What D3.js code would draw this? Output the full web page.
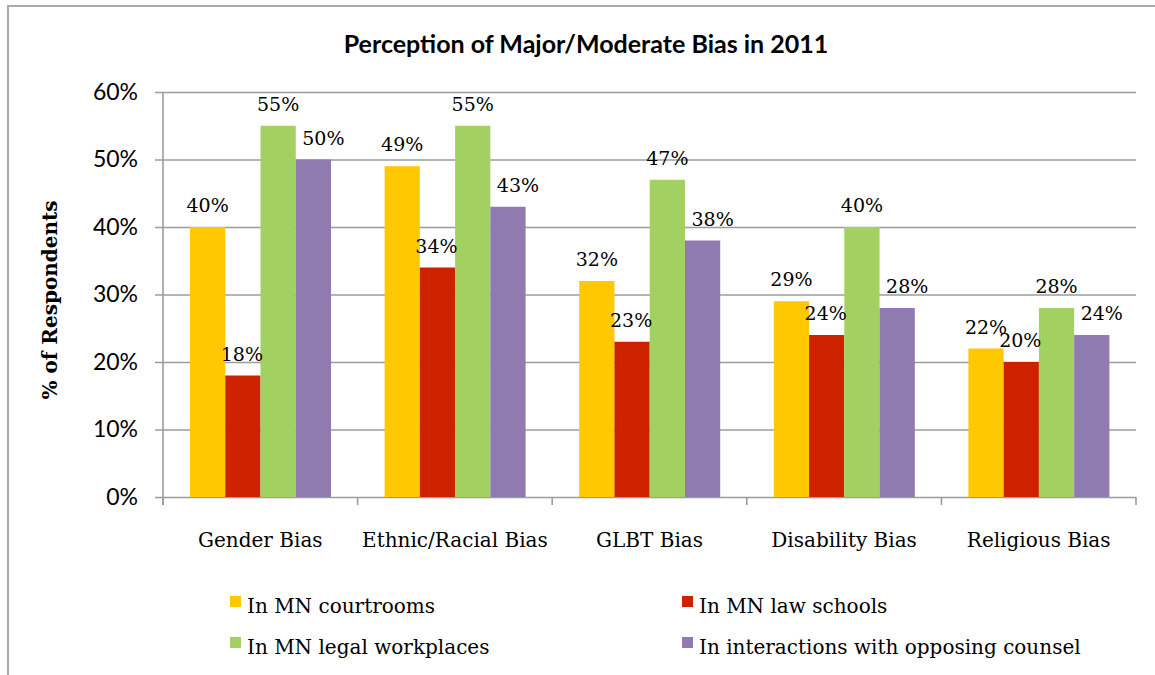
<!DOCTYPE html>
<html>
<head>
<meta charset="utf-8">
<script src="https://cdn.jsdelivr.net/npm/d3@7"></script>
<style>
  html, body { margin: 0; padding: 0; background: #fff; }
  svg { display: block; }
</style>
</head>
<body>
<svg id="chart" width="1155" height="675"></svg>
<script>
const categories = ["Gender Bias", "Ethnic/Racial Bias", "GLBT Bias", "Disability Bias", "Religious Bias"];
const seriesNames = ["In MN courtrooms", "In MN law schools", "In MN legal workplaces", "In interactions with opposing counsel"];
const courtrooms = [40, 49, 32, 29, 22];
const lawSchools = [18, 34, 23, 24, 20];
const workplaces = [55, 55, 47, 40, 28];
const counsel = [50, 43, 38, 28, 24];
const yTicks = [0, 10, 20, 30, 40, 50, 60];

const COLORS = ["#ffc800", "#cc2200", "#a2d162", "#8f7bb0"];
const seriesValues = [courtrooms, lawSchools, workplaces, counsel];

const W = 1155, H = 675;
const PLOT = { left: 163, right: 1136, top: 92, bottom: 497 };
const SERIF = "'DejaVu Serif', serif";
const SANS = "Lato, 'Open Sans', sans-serif";

const svg = d3.select("#chart");

// outer frame, clipped at right and bottom like the source
svg.append("rect")
  .attr("x", 8).attr("y", 6)
  .attr("width", 1300).attr("height", 900)
  .attr("fill", "none")
  .attr("stroke", "#ababab")
  .attr("stroke-width", 2);

const x0 = d3.scaleBand()
  .domain(categories)
  .range([PLOT.left, PLOT.right]);

const x1 = d3.scaleBand()
  .domain(seriesNames)
  .range([27, 168]);

const y = d3.scaleLinear()
  .domain([0, 60])
  .range([PLOT.bottom, PLOT.top]);

// title
svg.append("text")
  .attr("x", 586).attr("y", 53)
  .attr("text-anchor", "middle")
  .attr("font-family", SANS)
  .attr("font-weight", "bold")
  .attr("font-size", "25px")
  .attr("fill", "#000")
  .text("Perception of Major/Moderate Bias in 2011");

// y axis with gridlines
svg.append("g")
  .attr("transform", `translate(${PLOT.left},0)`)
  .call(d3.axisLeft(y).tickValues(yTicks).tickFormat(d => d + "%")
    .tickSize(-(PLOT.right - PLOT.left)).tickPadding(25))
  .call(g => g.select(".domain").remove())
  .call(g => g.selectAll(".tick line")
    .attr("x1", -8)
    .attr("stroke", "#9c9c9c")
    .attr("stroke-width", 1.6))
  .call(g => g.selectAll(".tick text")
    .attr("fill", "#000")
    .attr("font-family", SANS)
    .attr("font-size", "23px"));

// y axis line
svg.append("line")
  .attr("x1", PLOT.left).attr("x2", PLOT.left)
  .attr("y1", PLOT.top).attr("y2", PLOT.bottom + 8)
  .attr("stroke", "#9c9c9c").attr("stroke-width", 1.6);

// category tick marks
const catTicks = categories.map(c => x0(c)).concat([PLOT.right]);
svg.selectAll("line.cat-tick")
  .data(catTicks)
  .join("line")
    .attr("class", "cat-tick")
    .attr("x1", d => d).attr("x2", d => d)
    .attr("y1", PLOT.bottom).attr("y2", PLOT.bottom + 8)
    .attr("stroke", "#9c9c9c").attr("stroke-width", 1.6);

// y axis title
svg.append("text")
  .attr("transform", `translate(57,300) rotate(-90)`)
  .attr("text-anchor", "middle")
  .attr("font-family", SERIF)
  .attr("font-weight", "bold")
  .attr("font-size", "20px")
  .attr("fill", "#000")
  .text("% of Respondents");

// bars
const groups = svg.selectAll("g.group")
  .data(categories)
  .join("g")
    .attr("class", "group")
    .attr("transform", d => `translate(${x0(d)},0)`);

const LABEL_DX = [0, -1, 0, 10];

groups.each(function(cat, ci) {
  const g = d3.select(this);
  const rows = seriesNames.map((s, si) => ({ s, si, v: seriesValues[si][ci] }));

  g.selectAll("rect")
    .data(rows)
    .join("rect")
      .attr("x", d => x1(d.s))
      .attr("y", d => y(d.v))
      .attr("width", x1.bandwidth())
      .attr("height", d => y(0) - y(d.v))
      .attr("fill", d => COLORS[d.si]);

  g.selectAll("text")
    .data(rows)
    .join("text")
      .attr("x", d => x1(d.s) + x1.bandwidth() / 2 + LABEL_DX[d.si])
      .attr("y", d => y(d.v) - 15)
      .attr("text-anchor", "middle")
      .attr("font-family", SERIF)
      .attr("font-size", "19px")
      .attr("fill", "#000")
      .text(d => d.v + "%");
});

// category labels
svg.selectAll("text.cat")
  .data(categories)
  .join("text")
    .attr("class", "cat")
    .attr("x", d => x0(d) + x0.bandwidth() / 2)
    .attr("y", 547)
    .attr("text-anchor", "middle")
    .attr("font-family", SERIF)
    .attr("font-size", "20px")
    .attr("fill", "#000")
    .text(d => d);

// legend
const legendPos = [
  { x: 230, y: 596 },
  { x: 682, y: 596 },
  { x: 230, y: 637 },
  { x: 682, y: 637 },
];
const legend = svg.selectAll("g.legend")
  .data(seriesNames)
  .join("g")
    .attr("class", "legend")
    .attr("transform", (d, i) => `translate(${legendPos[i].x},${legendPos[i].y})`);

legend.append("rect")
  .attr("width", 11).attr("height", 11)
  .attr("fill", (d, i) => COLORS[i]);

legend.append("text")
  .attr("x", 17).attr("y", 17)
  .attr("font-family", SERIF)
  .attr("font-size", "20px")
  .attr("fill", "#000")
  .text(d => d);
</script>
</body>
</html>
